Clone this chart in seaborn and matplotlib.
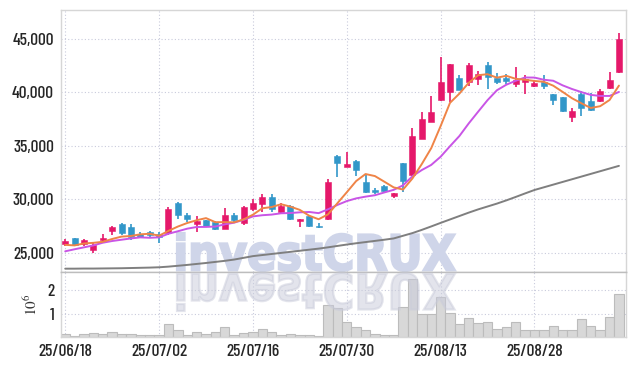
import numpy as np
import pandas as pd
import matplotlib
matplotlib.use('Agg')
import matplotlib.pyplot as plt
import seaborn as sns
from matplotlib.ticker import FuncFormatter
from matplotlib.textpath import TextPath
from matplotlib.patches import PathPatch
from matplotlib.transforms import Affine2D, IdentityTransform
from matplotlib.font_manager import FontProperties

# daily candles 25/06/18 .. 25/09/10 (60 trading days)
opens = [25800, 26370, 25870, 25310, 26190, 27060, 27740, 27460, 26800, 26960,
         26800, 26840, 29670, 28580, 27710, 28080, 27870, 27270, 28520, 27780,
         29140, 29550, 30230, 28770, 29360, 28020, 28430, 27550, 28180, 34070,
         33010, 33600, 31610, 30900, 31270, 30340, 33390, 32270, 35650, 37240,
         39260, 40040, 41320, 40970, 41190, 42530, 41340, 41340, 40760, 40910,
         40570, 40970, 39820, 39570, 37710, 39820, 39170, 39170, 40410, 41900]
highs = [26280, 26400, 26280, 26030, 26750, 27520, 27800, 27740, 26950, 27050,
         26990, 29250, 29730, 28700, 28460, 28080, 28000, 29180, 28700, 29400,
         30000, 30490, 30500, 29650, 29500, 28180, 28560, 27780, 31920, 34160,
         34410, 33650, 32360, 31100, 31350, 30620, 33390, 36650, 38110, 39610,
         43300, 42590, 41550, 42750, 41940, 42780, 41810, 41650, 42370, 41600,
         41000, 41600, 39820, 39570, 38490, 40100, 39890, 40250, 41900, 45480]
lows = [25680, 25700, 25600, 25000, 26000, 26680, 26700, 26240, 26350, 26500,
        25960, 26700, 28150, 27900, 26990, 27400, 27100, 27200, 27900, 27650,
        28900, 28770, 28850, 28700, 28080, 27400, 27400, 27300, 28080, 32040,
        33010, 32220, 30600, 30500, 30600, 30150, 30710, 32200, 35600, 37200,
        39150, 39110, 40200, 40570, 40630, 40290, 40730, 40730, 40500, 39820,
        40450, 40250, 38800, 38100, 37180, 37770, 38270, 39100, 40300, 41800]
closes = [26120, 25750, 26190, 25750, 26370, 27430, 26870, 26470, 26520, 26650,
          26520, 29110, 28490, 28180, 27930, 27520, 27210, 28520, 28080, 29300,
          29700, 30230, 29080, 29390, 28180, 28180, 27520, 27430, 31660, 33380,
          33290, 32750, 30710, 30710, 30770, 30620, 31740, 35900, 37460, 38140,
          40910, 42590, 40200, 42530, 41660, 41380, 40970, 41060, 41130, 41220,
          40820, 40570, 39260, 38240, 38240, 38490, 38360, 40100, 41130, 44950]
volumes = [150000, 60000, 150000, 190000, 150000, 230000, 150000, 150000, 100000, 100000,
           100000, 570000, 280000, 100000, 230000, 150000, 230000, 410000, 100000, 190000,
           230000, 360000, 230000, 100000, 150000, 100000, 100000, 40000, 1350000, 1230000,
           660000, 420000, 320000, 150000, 100000, 100000, 1280000, 2500000, 1000000, 1000000,
           1690000, 1040000, 570000, 800000, 620000, 660000, 360000, 420000, 660000, 320000,
           280000, 280000, 470000, 280000, 280000, 750000, 470000, 320000, 850000, 1830000]

# moving averages as drawn on the chart (5 / 10 / 60 day)
ma5 = [25750, 25700, 25880, 25940, 26036, 26298, 26522, 26578, 26732, 26788,
       26606, 27054, 27458, 27790, 28046, 28246, 27866, 27872, 27852, 28126,
       28562, 29166, 29278, 29540, 29316, 29012, 28470, 28140, 28594, 29634,
       30656, 31702, 32358, 32168, 31646, 31112, 30910, 31948, 33298, 34772,
       36830, 39000, 39860, 40874, 41578, 41672, 41348, 41520, 41240, 41152,
       41040, 40960, 40600, 40022, 39426, 38960, 38518, 38686, 39264, 40606]
ma10 = [25150, 25340, 25520, 25700, 25950, 26110, 26230, 26350, 26450, 26412,
        26452, 26788, 27018, 27261, 27417, 27426, 27460, 27665, 27821, 28086,
        28404, 28516, 28575, 28696, 28721, 28787, 28818, 28709, 29067, 29475,
        29834, 30086, 30249, 30381, 30640, 30884, 31306, 32153, 32733, 33209,
        33971, 34955, 35904, 37086, 38175, 39251, 40174, 40690, 41057, 41365,
        41356, 41154, 41060, 40631, 40289, 40000, 39739, 39643, 39643, 40016]
ma60 = [23530, 23530, 23540, 23540, 23550, 23560, 23570, 23590, 23610, 23630,
        23660, 23720, 23800, 23880, 23970, 24060, 24160, 24260, 24380, 24540,
        24700, 24800, 24900, 25000, 25100, 25200, 25300, 25400, 25520, 25650,
        25780, 25900, 26010, 26120, 26230, 26350, 26600, 26850, 27150, 27470,
        27800, 28120, 28440, 28760, 29060, 29330, 29600, 29900, 30220, 30550,
        30870, 31120, 31370, 31620, 31870, 32120, 32370, 32620, 32870, 33120]

tick_pos = [0, 10, 20, 30, 40, 50]
tick_labels = ['25/06/18', '25/07/02', '25/07/16', '25/07/30', '25/08/13', '25/08/28']
price_ticks = [25000, 30000, 35000, 40000, 45000]

UP = '#e5186a'
DOWN = '#3297c9'

sns.set_theme(style='white')
plt.rcParams['font.family'] = ['Barlow Condensed', 'DejaVu Sans']
plt.rcParams['font.weight'] = 500
plt.rcParams['mathtext.fontset'] = 'stix'

df = pd.DataFrame({'open': opens, 'high': highs, 'low': lows, 'close': closes,
                   'volume': volumes, 'ma5': ma5, 'ma10': ma10, 'ma60': ma60})
df['x'] = np.arange(len(df))

fig = plt.figure(figsize=(6.34, 3.66), dpi=100)
ax = fig.add_axes([0.0962, 0.2568, 0.8904, 0.7172])
axv = fig.add_axes([0.0962, 0.0792, 0.8904, 0.1776], sharex=ax)

# candles
colors = np.where(df['close'] >= df['open'], UP, DOWN)
ax.vlines(df['x'], df['low'], df['high'], color=colors, linewidth=1.2, zorder=3)
body = (df['close'] - df['open']).abs().clip(lower=70)
ax.bar(df['x'], body, bottom=df[['open', 'close']].min(axis=1), width=0.64,
       color=colors, edgecolor=colors, linewidth=0.4, zorder=4)

sns.lineplot(data=df, x='x', y='ma60', ax=ax, color='#7f7f7f', linewidth=1.4, zorder=5)
sns.lineplot(data=df, x='x', y='ma10', ax=ax, color='#c955e6', linewidth=1.4, zorder=5)
sns.lineplot(data=df, x='x', y='ma5', ax=ax, color='#ef8447', linewidth=1.4, zorder=6)

# volume
axv.bar(df['x'], df['volume'] / 1e6, width=1.0, color='#d8d8d8',
        edgecolor='#bcbcbc', linewidth=0.8, zorder=2)

ax.set_xlim(-0.45, 59.7)
ax.set_ylim(23218, 47705)
axv.set_ylim(0, 2.78)

grid_kw = dict(color='#c9cbdc', linestyle=(0, (1, 2)), linewidth=0.8)
for a in (ax, axv):
    a.grid(True, **grid_kw)
    a.set_axisbelow(True)
    a.tick_params(length=0, pad=5, labelsize=12.5, labelcolor='#262626')
    a.set_xlabel('')
    a.set_ylabel('')
    for s in a.spines.values():
        s.set_color('#d6d6d6')
        s.set_linewidth(1.0)
ax.spines['bottom'].set_color('#bdbdbd')
axv.spines['top'].set_color('#bdbdbd')

ax.set_yticks(price_ticks)
ax.yaxis.set_major_formatter(FuncFormatter(lambda v, p: f'{v:,.0f}'))
ax.tick_params(axis='x', labelbottom=False)
axv.set_yticks([1, 2])
axv.set_yticklabels(['1', '2'])
axv.set_xticks(tick_pos)
axv.set_xticklabels(tick_labels)
axv.set_ylabel(r'$10^6$', fontsize=11, labelpad=5, color='#333333')

# watermark with reflection
fp = FontProperties(family='DejaVu Sans', weight='bold')
tp = TextPath((0, 0), 'investCRUX', size=100, prop=fp)
bb = tp.get_extents()
sx = 278 / bb.width
sy = 38 / bb.height
base_y = 366 - 271
main_tr = Affine2D().translate(-bb.x0, -bb.y0).scale(sx, sy).translate(177, base_y)
refl_tr = Affine2D().translate(-bb.x0, -bb.y0).scale(sx, -sy).translate(177, base_y - 2)
wm = PathPatch(main_tr.transform_path(tp), facecolor='#cfd5e9', edgecolor='#cfd5e9',
               linewidth=1.6, transform=IdentityTransform(), zorder=1)
ax.add_artist(wm)
wr = PathPatch(refl_tr.transform_path(tp), facecolor='#c9cbda', edgecolor='#c9cbda',
               linewidth=1.6, alpha=0.5, transform=IdentityTransform(), zorder=3)
axv.add_artist(wr)

fig.savefig('out.png', dpi=100)
